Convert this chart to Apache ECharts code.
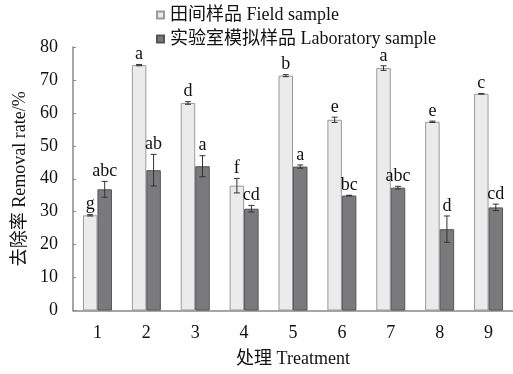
<!DOCTYPE html>
<html><head><meta charset="utf-8">
<script src="https://cdn.jsdelivr.net/npm/echarts@6/dist/echarts.min.js"></script>
<style>html,body{margin:0;padding:0;background:#fff}#c{width:513px;height:374px}</style>
</head><body><div id="c"></div>
<script>
var categories = ['1','2','3','4','5','6','7','8','9'];
var fieldValues = [28.9, 74.5, 63.0, 37.9, 71.3, 57.9, 73.6, 57.3, 65.8];
var fieldErrors = [0.2, 0.2, 0.4, 2.2, 0.3, 0.8, 0.7, 0.2, 0.1];
var fieldLetters = ['g','a','d','f','b','e','a','e','c'];
var labValues = [36.8, 42.6, 43.8, 30.9, 43.7, 34.9, 37.3, 24.7, 31.3];
var labErrors = [2.4, 4.8, 3.2, 1.0, 0.5, 0.1, 0.4, 4.0, 1.0];
var labLetters = ['abc','ab','a','cd','a','bc','abc','d','cd'];
var yTicks = [0,10,20,30,40,50,60,70,80];

var FONT = '"Liberation Serif","Times New Roman","Noto Sans CJK SC",serif';
var FS = 18;
var BW = 14.5;

function errSeries(vals, errs, letters, side, name) {
  var data = vals.map(function(v,i){ return [i, v, errs[i], letters[i]]; });
  return {
    type: 'custom', name: name + '_err', silent: true, z: 5,
    data: data,
    renderItem: function(params, api) {
      var idx = api.value(0), v = api.value(1), e = api.value(2);
      var c = api.coord([idx, v]);
      var x = c[0] + side * BW / 2;
      var top = api.coord([idx, v + e])[1];
      var bot = api.coord([idx, v - e])[1];
      var cap = 3;
      var st = {stroke:'#333', lineWidth:1};
      return {type:'group', children:[
        {type:'line', shape:{x1:x,y1:top,x2:x,y2:bot}, style:st},
        {type:'line', shape:{x1:x-cap,y1:top,x2:x+cap,y2:top}, style:st},
        {type:'line', shape:{x1:x-cap,y1:bot,x2:x+cap,y2:bot}, style:st},
        {type:'text', style:{text: letters[params.dataIndex], x:x, y:top-1,
          align:'center', verticalAlign:'bottom', fill:'#111', font:FS + 'px ' + FONT}}
      ]};
    }
  };
}

var chart = echarts.init(document.getElementById('c'));
chart.setOption({
  animation: false,
  backgroundColor: '#fff',
  grid: {left: 73, right: 0, top: 47, bottom: 63.5, containLabel: false, outerBoundsMode: 'none'},
  legend: {
    orient: 'vertical', left: 156, top: 6, itemGap: 6,
    itemWidth: 7, itemHeight: 7, icon: 'rect', padding: 0,
    textStyle: {fontFamily: FONT, fontSize: FS, color: '#111', padding: [0,0,0,1]},
    data: ['田间样品 Field sample', '实验室模拟样品 Laboratory sample']
  },
  xAxis: {
    type: 'category', data: categories,
    name: '处理 Treatment', nameLocation: 'middle', nameGap: 40,
    nameTextStyle: {fontFamily: FONT, fontSize: FS, color: '#111'},
    axisLine: {lineStyle: {color: '#888', width: 1.5}},
    axisTick: {inside: true, length: 4, alignWithLabel: false, lineStyle: {color: '#888'}},
    axisLabel: {fontFamily: FONT, fontSize: FS, color: '#111', margin: 14}
  },
  yAxis: {
    type: 'value', min: 0, max: 80, interval: 10,
    name: '去除率 Removal rate/%', nameLocation: 'middle', nameGap: 44,
    nameTextStyle: {fontFamily: FONT, fontSize: FS, color: '#111'},
    axisLine: {show: true, lineStyle: {color: '#888', width: 1.5}},
    axisTick: {show: true, inside: true, length: 3, lineStyle: {color: '#888'}},
    splitLine: {show: false},
    axisLabel: {fontFamily: FONT, fontSize: FS, color: '#111', margin: 15,
      formatter: function(v){ return yTicks.indexOf(v) >= 0 ? String(v) : ''; }}
  },
  series: [
    {name: '田间样品 Field sample', type: 'bar', data: fieldValues, barWidth: BW, barGap: '0%',
     itemStyle: {color: '#ebebeb', borderColor: '#9a9a9a', borderWidth: 1}},
    {name: '实验室模拟样品 Laboratory sample', type: 'bar', data: labValues, barWidth: BW, barGap: '0%',
     itemStyle: {color: '#7a7a7c', borderColor: '#555', borderWidth: 1}},
    errSeries(fieldValues, fieldErrors, fieldLetters, -1, 'field'),
    errSeries(labValues, labErrors, labLetters, 1, 'lab')
  ]
});
</script></body></html>
